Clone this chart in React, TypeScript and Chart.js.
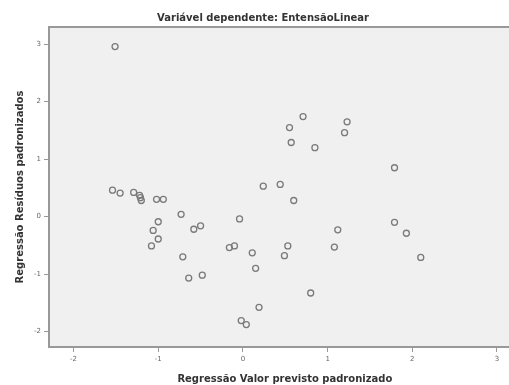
import React, { useEffect, useRef } from "react";
import { Chart, registerables } from "chart.js";

Chart.register(...registerables);

const chartTitle = "Variável dependente: EntensãoLinear";
const xAxisTitle = "Regressão Valor previsto padronizado";
const yAxisTitle = "Regressão Resíduos padronizados";

const xTickValues = [-2, -1, 0, 1, 2, 3];
const yTickValues = [-2, -1, 0, 1, 2, 3];

const predictedValues = [
  -1.51, -1.54, -1.45, -1.29, -1.22, -1.21, -1.2, -1.02, -0.94, -0.73,
  -1.0, -1.06, -1.0, -1.08, -0.58, -0.5, -0.71, -0.64, -0.48, -0.04,
  -0.16, -0.1, 0.11, 0.15, 0.19, -0.02, 0.04, 0.24, 0.44, 0.6,
  0.53, 0.49, 0.8, 1.12, 1.08, 0.71, 0.55, 0.57, 0.85, 1.23,
  1.2, 1.79, 1.79, 1.93, 2.1,
];
const residualValues = [
  2.96, 0.46, 0.41, 0.42, 0.37, 0.33, 0.28, 0.3, 0.3, 0.04,
  -0.09, -0.24, -0.39, -0.51, -0.22, -0.16, -0.7, -1.07, -1.02, -0.04,
  -0.54, -0.51, -0.63, -0.9, -1.58, -1.81, -1.88, 0.53, 0.56, 0.28,
  -0.51, -0.68, -1.33, -0.23, -0.53, 1.74, 1.55, 1.29, 1.2, 1.65,
  1.46, 0.85, -0.1, -0.29, -0.71,
];

const FONT = "'DejaVu Sans', sans-serif";

const framePlugin = {
  id: "frame",
  beforeDatasetsDraw(chart: any) {
    const { ctx, chartArea } = chart;
    ctx.save();
    ctx.fillStyle = "#f0f0f0";
    ctx.fillRect(chartArea.left, chartArea.top, chartArea.right - chartArea.left, chartArea.bottom - chartArea.top);
    ctx.strokeStyle = "#999999";
    ctx.lineWidth = 2;
    ctx.strokeRect(chartArea.left, chartArea.top, chartArea.right - chartArea.left, chartArea.bottom - chartArea.top);
    ctx.restore();
  },
};

export default function App() {
  const canvasRef = useRef<HTMLCanvasElement | null>(null);

  useEffect(() => {
    if (!canvasRef.current) return;
    const points = predictedValues.map((x, i) => ({ x, y: residualValues[i] }));
    const chart = new Chart(canvasRef.current, {
      type: "scatter",
      data: {
        datasets: [
          {
            data: points,
            pointRadius: 3,
            pointBorderWidth: 1.3,
            pointBackgroundColor: "rgba(0,0,0,0)",
            pointBorderColor: "#7a7a7a",
          },
        ],
      },
      plugins: [framePlugin],
      options: {
        animation: false,
        responsive: false,
        maintainAspectRatio: false,
        layout: { padding: 0 },
        plugins: {
          legend: { display: false },
          tooltip: { enabled: false },
          title: {
            display: true,
            text: chartTitle,
            color: "#333333",
            font: { family: FONT, size: 10, weight: "bold" },
            padding: { top: 12, bottom: 3 },
          },
        },
        scales: {
          x: {
            type: "linear",
            min: -2.29,
            max: 3.28,
            afterBuildTicks: (scale: any) => {
              scale.ticks = xTickValues.map((v) => ({ value: v }));
            },
            afterFit: (scale: any) => {
              scale.height = 38;
            },
            ticks: {
              color: "#666666",
              font: { family: FONT, size: 7 },
              padding: 3,
              autoSkip: false,
              maxRotation: 0,
              callback: (v: any) => String(v),
            },
            grid: { drawOnChartArea: false, drawTicks: true, tickLength: 5, color: "#999999", lineWidth: 1 },
            border: { display: false },
            title: {
              display: true,
              text: xAxisTitle,
              color: "#333333",
              font: { family: FONT, size: 10, weight: "bold" },
              padding: { top: 3, bottom: 0 },
            },
          },
          y: {
            type: "linear",
            min: -2.27,
            max: 3.3,
            afterBuildTicks: (scale: any) => {
              scale.ticks = yTickValues.map((v) => ({ value: v }));
            },
            afterFit: (scale: any) => {
              scale.width = 49;
            },
            ticks: {
              color: "#666666",
              font: { family: FONT, size: 7 },
              padding: 3,
              autoSkip: false,
              callback: (v: any) => String(v),
            },
            grid: { drawOnChartArea: false, drawTicks: true, tickLength: 5, color: "#999999", lineWidth: 1 },
            border: { display: false },
            title: {
              display: true,
              text: yAxisTitle,
              color: "#333333",
              font: { family: FONT, size: 10, weight: "bold" },
              padding: { top: 14, bottom: 0 },
            },
          },
        },
      },
    } as any);
    return () => chart.destroy();
  }, []);

  return (
    <div
      style={{
        position: "fixed",
        left: 0,
        top: 0,
        width: 509,
        height: 385,
        overflow: "hidden",
        background: "#ffffff",
      }}
    >
      <canvas ref={canvasRef} width={526} height={385} style={{ width: 526, height: 385, display: "block" }} />
    </div>
  );
}
